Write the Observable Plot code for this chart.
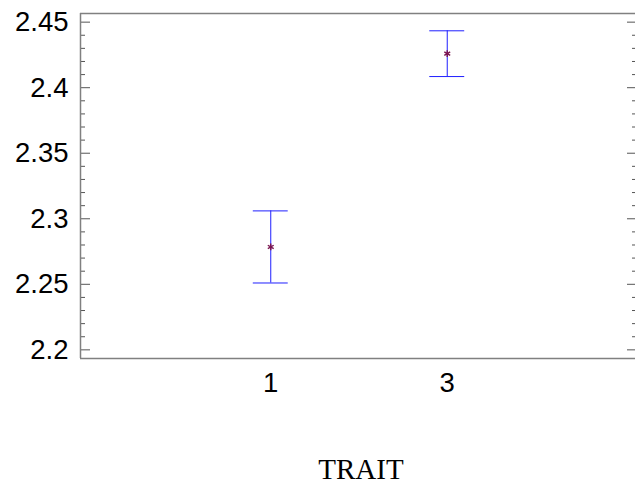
<!DOCTYPE html>
<html>
<head>
<meta charset="utf-8">
<script src="https://cdn.jsdelivr.net/npm/d3@7"></script>
<script src="https://cdn.jsdelivr.net/npm/@observablehq/plot@0.6"></script>
<style>
  html, body { margin: 0; padding: 0; background: white; }
</style>
</head>
<body>
<div id="chart"></div>
<script>
// Data
const traits = [1, 3];
const means = [2.2785, 2.426];
const lower = [2.251, 2.4085];
const upper = [2.306, 2.4434];
const yMajor = [2.2, 2.25, 2.3, 2.35, 2.4, 2.45];
const yMinor = d3.range(220, 246).map(v => v / 100).filter(v => Math.round(v * 100) % 5 !== 0);
const xLabel = "TRAIT";

const data = traits.map((t, i) => ({trait: t, mean: means[i], lo: lower[i], hi: upper[i]}));

const W = 635, H = 483, mL = 80, mR = -2, mT = 13, mB = 125;
const innerW = W - mL - mR;
const xDomain = [-1.156, 5.156];
const yDomain = [2.1934, 2.4566];
const capHalf = 0.198;
const blue = "#1f1fff";
const frameColor = "#808080";
const tickColor = "#555";

const chart = Plot.plot({
  width: W, height: H,
  marginLeft: mL, marginRight: mR, marginTop: mT, marginBottom: mB,
  x: {domain: xDomain},
  y: {domain: yDomain},
  style: {background: "white", fontFamily: "'Liberation Sans', Arial, sans-serif", color: "black"},
  marks: [
    Plot.axisY({ticks: yMajor, tickSize: 0, tickPadding: 12, fontSize: 27.5, label: null,
      tickFormat: d => String(+d.toFixed(2))}),
    Plot.axisX({ticks: traits, tickSize: 0, tickPadding: 14, fontSize: 27.5, label: null,
      tickFormat: d => String(d)}),
    // left ticks (inward)
    Plot.tickY(yMajor, {y: d => d, insetRight: innerW - 10, stroke: tickColor}),
    Plot.tickY(yMinor, {y: d => d, insetRight: innerW - 5, stroke: tickColor}),
    // right ticks (inward)
    Plot.tickY(yMajor, {y: d => d, insetLeft: innerW - 10, stroke: tickColor}),
    Plot.tickY(yMinor, {y: d => d, insetLeft: innerW - 5, stroke: tickColor}),
    // frame
    Plot.ruleY([yDomain[1]], {stroke: frameColor, strokeWidth: 1.5}),
    Plot.ruleY([yDomain[0]], {stroke: frameColor, strokeWidth: 1.5}),
    Plot.ruleX([xDomain[0]], {stroke: frameColor, strokeWidth: 1.5}),
    // error bars
    Plot.ruleX(data, {x: "trait", y1: "lo", y2: "hi", stroke: blue}),
    Plot.ruleY(data, {y: "lo", x1: d => d.trait - capHalf, x2: d => d.trait + capHalf, stroke: blue}),
    Plot.ruleY(data, {y: "hi", x1: d => d.trait - capHalf, x2: d => d.trait + capHalf, stroke: blue}),
    Plot.dot(data, {x: "trait", y: "mean", symbol: "asterisk", r: 3.2, stroke: "#7a1550", strokeWidth: 1.4}),
    Plot.text([xLabel], {text: d => d, frameAnchor: "bottom", lineAnchor: "bottom", dy: 120, dx: 2,
      fontSize: 29, fontFamily: "'Liberation Serif', 'Times New Roman', serif", fill: "black"})
  ]
});
document.getElementById("chart").appendChild(chart);
</script>
</body>
</html>
